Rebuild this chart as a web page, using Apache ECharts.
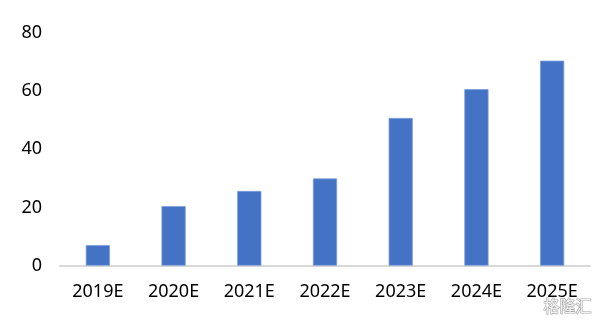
<!DOCTYPE html>
<html>
<head>
<meta charset="utf-8">
<script src="https://cdn.jsdelivr.net/npm/echarts@6/dist/echarts.min.js"></script>
<style>html,body{margin:0;padding:0;background:#fff}#c{width:598px;height:320px}</style>
</head>
<body>
<div id="c"></div>
<script>
const categories = ['2019E','2020E','2021E','2022E','2023E','2024E','2025E'];
const values = [7.1, 20.5, 25.7, 30.0, 50.8, 60.7, 70.5];
const yTicks = [0, 20, 40, 60, 80];

const chart = echarts.init(document.getElementById('c'), null, {renderer:'canvas'});
chart.setOption({
  animation: false,
  grid: {left: 60, right: 8, top: 33, bottom: 54.3, containLabel: false},
  xAxis: {
    type: 'category',
    data: categories,
    axisLine: {lineStyle: {color: '#d9d9d9', width: 2}},
    axisTick: {show: false},
    axisLabel: {color: '#000', fontSize: 18, fontFamily: 'Noto Sans', margin: 17}
  },
  yAxis: {
    type: 'value',
    min: yTicks[0], max: yTicks[yTicks.length-1], interval: 20,
    axisLine: {show: false},
    axisTick: {show: false},
    splitLine: {show: false},
    axisLabel: {color: '#000', fontSize: 18, fontFamily: 'Noto Sans', margin: 18}
  },
  series: [{
    type: 'bar',
    data: values,
    barWidth: '32%',
    itemStyle: {color: '#4472C4', borderColor: '#7fa0dc', borderWidth: 0.8}
  }],
  graphic: [{
    type: 'text', right: 6, bottom: 5,
    style: {text: '格隆汇', fontSize: 16, fontFamily: 'Noto Sans CJK SC', fill: 'rgba(255,255,255,0.85)', stroke: 'rgba(140,140,140,0.75)', lineWidth: 1.2}
  }]
});
</script>
</body>
</html>
